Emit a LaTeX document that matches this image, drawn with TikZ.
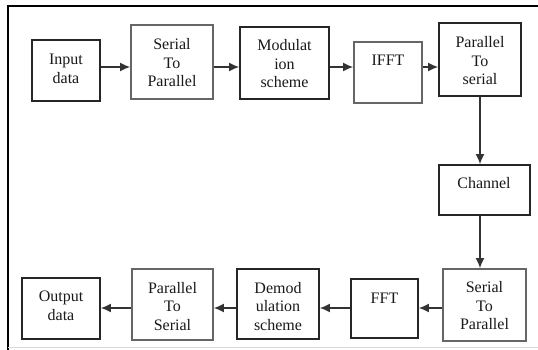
\documentclass[tikz,border=0pt]{standalone}
\usepackage{fontspec}
\setmainfont{Liberation Serif}
\usetikzlibrary{arrows.meta}
\begin{document}
\begin{tikzpicture}[x=1pt,y=-1pt,
  blk/.style={draw=black!85,line width=1.7pt,inner sep=0pt,fill=white},
  gblk/.style={blk,draw=black!60},
  txt/.style={align=center,font=\fontsize{16}{18.5}\selectfont,text=black!90,inner sep=0pt},
  arr/.style={draw=black!80,line width=1.6pt,-{Latex[length=10pt,width=9pt]}}]
\useasboundingbox (0,0) rectangle (538,349);
\fill[white] (0,0) rectangle (538,349);
% frame
\draw[line width=2.8pt,line cap=rect] (8,349) -- (8,6) -- (538,6);
\draw[black!15,line width=0.8pt] (8,347.5) -- (538,347.5);
% boxes
\node[blk,minimum width=68,minimum height=61] (in) at (66,70.5) {};
\node[gblk,minimum width=82,minimum height=74] (s2p) at (172,62) {};
\node[blk,minimum width=89,minimum height=72] (mod) at (284.5,63) {};
\node[gblk,minimum width=68,minimum height=61] (ifft) at (388,72.5) {};
\node[blk,minimum width=82,minimum height=73] (p2s) at (480,59.5) {};
\node[blk,minimum width=91,minimum height=50] (chan) at (484.5,190) {};
\node[gblk,minimum width=83,minimum height=72] (s2pb) at (484.5,305) {};
\node[blk,minimum width=67,minimum height=59] (fft) at (384.5,308.5) {};
\node[blk,minimum width=82,minimum height=70] (dem) at (278,304) {};
\node[gblk,minimum width=81,minimum height=71] (p2sb) at (172.5,304.5) {};
\node[blk,minimum width=78,minimum height=61] (out) at (61,308.5) {};
% texts
\node[txt] (tin) at (66,69) {Input\\data};
\node[txt] (ts2p) at (172,63) {Serial\\To\\Parallel};
\node[txt] (tmod) at (284.5,64) {Modulat\\ion\\scheme};
\node[txt] (tifft) at (388,60) {IFFT};
\node[txt] (tp2s) at (480,61) {Parallel\\To\\serial};
\node[txt] (tchan) at (484,183) {Channel};
\node[txt] (ts2pb) at (484.5,306) {Serial\\To\\Parallel};
\node[txt] (tfft) at (384.5,298) {FFT};
\node[txt] (tdem) at (278,306.5) {Demod\\ulation\\scheme};
\node[txt] (tp2sb) at (172.5,306.5) {Parallel\\To\\Serial};
\node[txt] (tout) at (61,306) {Output\\data};
% arrows
\coordinate (r1) at (0,67);
\coordinate (r2) at (0,308);
\coordinate (c1) at (480,0);
\draw[arr] (in.east |- r1) -- (s2p.west |- r1);
\draw[arr] (s2p.east |- r1) -- (mod.west |- r1);
\draw[arr] (mod.east |- r1) -- (ifft.west |- r1);
\draw[arr] (ifft.east |- r1) -- (p2s.west |- r1);
\draw[arr] (p2s.south -| c1) -- (chan.north -| c1);
\draw[arr] (chan.south -| c1) -- (s2pb.north -| c1);
\draw[arr] (s2pb.west |- r2) -- (fft.east |- r2);
\draw[arr] (fft.west |- r2) -- (dem.east |- r2);
\draw[arr] (dem.west |- r2) -- (p2sb.east |- r2);
\draw[arr] (p2sb.west |- r2) -- (out.east |- r2);
\end{tikzpicture}
\end{document}
